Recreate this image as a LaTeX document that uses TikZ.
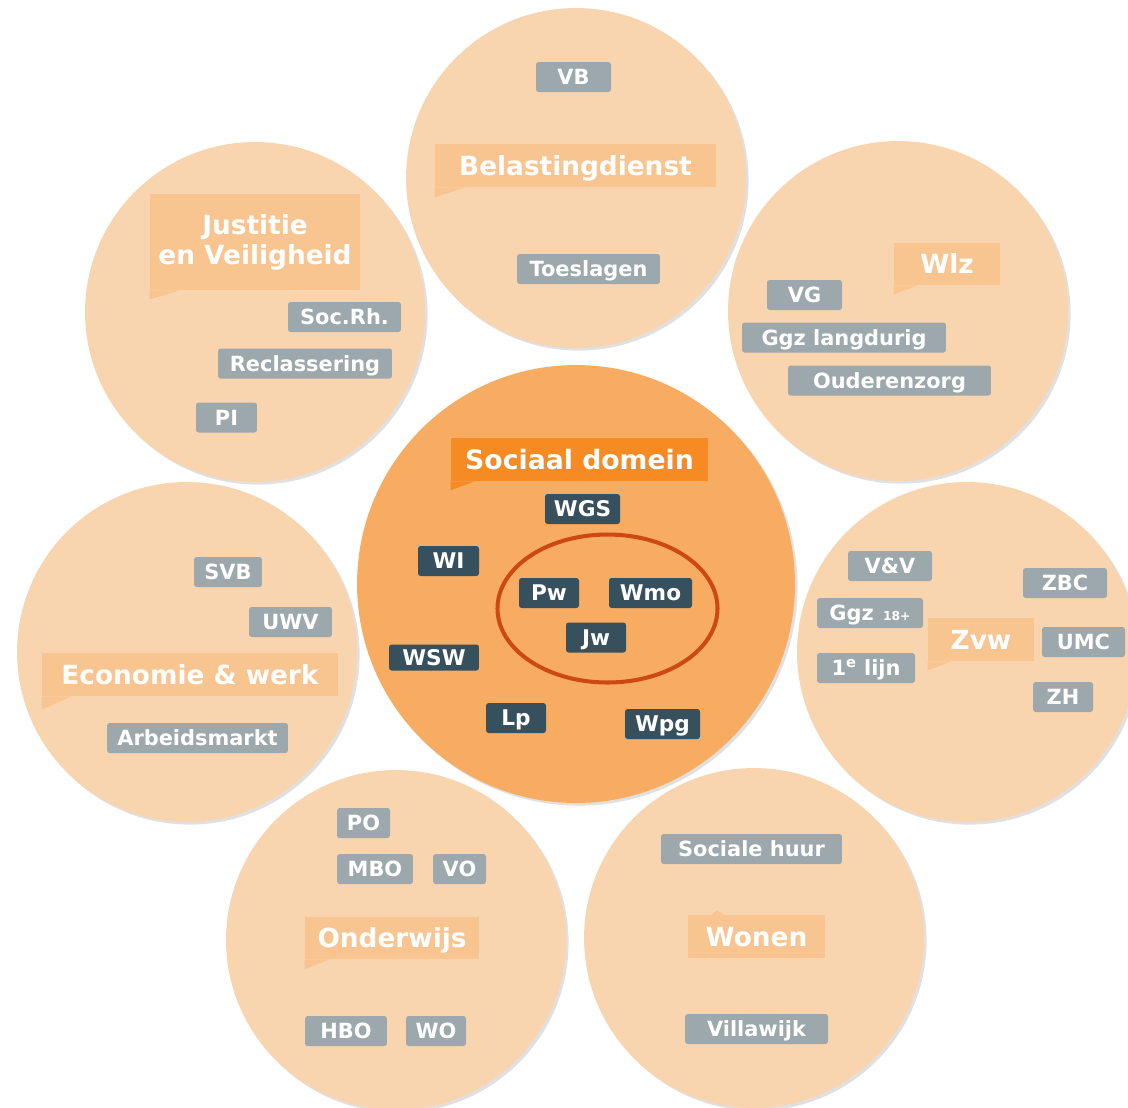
\documentclass[tikz,border=0pt]{standalone}
\usepackage{fontspec}
\setmainfont{DejaVu Sans}
\usepackage{tikz}
\usetikzlibrary{shadows}
\definecolor{cirkellicht}{HTML}{F9D5AF}
\definecolor{cirkelmidden}{HTML}{F7AC62}
\definecolor{koplicht}{HTML}{F8C48F}
\definecolor{kopmidden}{HTML}{F58B22}
\definecolor{taggrijs}{HTML}{9DA8AD}
\definecolor{tagdonker}{HTML}{37505D}
\definecolor{ringrood}{HTML}{CC4A12}

\begin{document}
\begin{tikzpicture}[x=0.02cm,y=-0.02cm,line join=round,
  cirkel/.style={circle,inner sep=0pt,minimum size=6.8cm,fill=cirkellicht,
    drop shadow={shadow xshift=1.5pt,shadow yshift=-1.5pt,opacity=0.12,fill=black}},
  kop/.style={fill=koplicht,text=white,inner sep=0pt,align=center,
    text height=10.9pt,text depth=0pt,font=\bfseries\fontsize{15}{17}\selectfont},
  tag/.style={fill=taggrijs,text=white,rounded corners=1.5pt,inner sep=0pt,
    minimum height=0.6cm,text height=8.6pt,text depth=0pt,
    font=\bfseries\fontsize{11.9}{13}\selectfont},
  dtag/.style={tag,fill=tagdonker,text height=9pt,font=\bfseries\fontsize{12.3}{14}\selectfont}]
\clip (0,0) rectangle (1128,1107);
\useasboundingbox (0,0) rectangle (1128,1107);

% cirkels
\node[cirkel] (c-bel) at (576,178) {};
\node[cirkel] (c-jus) at (255,312) {};
\node[cirkel] (c-wlz) at (898,311) {};
\node[cirkel] (c-eco) at (187,652) {};
\node[cirkel] (c-zvw) at (967,652) {};
\node[cirkel] (c-ond) at (396,940) {};
\node[cirkel] (c-won) at (754,938) {};
\node[cirkel,minimum size=8.76cm,fill=cirkelmidden] (c-soc) at (576,584) {};

% Belastingdienst
\node[kop,minimum width=5.62cm,minimum height=0.86cm] (bel) at (575.5,165.5) {Belastingdienst};
\fill[koplicht] (bel.south west) -- ++(0,10) -- ++(30,-10) -- cycle;
\node[tag,minimum width=1.5cm] (vb) at (573.5,77) {VB};
\node[tag,minimum width=2.86cm] (toeslagen) at (588.5,269) {Toeslagen};

% Justitie en Veiligheid
\node[kop,minimum width=4.2cm,minimum height=1.92cm,text height=,text depth=] (jus) at (255,242) {Justitie\\en Veiligheid};
\fill[koplicht] (jus.south west) -- ++(0,9) -- ++(30,-9) -- cycle;
\node[tag,minimum width=2.26cm] (socrh) at (344.5,317) {Soc.Rh.};
\node[tag,minimum width=3.48cm] (reclassering) at (305,363.5) {Reclassering};
\node[tag,minimum width=1.22cm] (pi) at (226.5,417.5) {PI};

% Wlz
\node[kop,minimum width=2.12cm,minimum height=0.84cm] (wlz) at (947,264) {Wlz};
\fill[koplicht] (wlz.south west) -- ++(0,9) -- ++(24,-9) -- cycle;
\node[tag,minimum width=1.5cm] (vg) at (804.5,295) {VG};
\node[tag,minimum width=4.08cm] (ggzlang) at (844,337.5) {Ggz langdurig};
\node[tag,minimum width=4.06cm] (ouderenzorg) at (889.5,380.5) {Ouderenzorg};

% Economie & werk
\node[kop,minimum width=5.92cm,minimum height=0.86cm] (eco) at (190,674.5) {Economie \& werk};
\fill[koplicht] (eco.south west) -- ++(0,13) -- ++(30,-13) -- cycle;
\node[tag,minimum width=1.36cm] (svb) at (228,572) {SVB};
\node[tag,minimum width=1.66cm] (uwv) at (290.5,622) {UWV};
\node[tag,minimum width=3.62cm] (arbeidsmarkt) at (197.5,738) {Arbeidsmarkt};

% Zvw
\node[kop,minimum width=2.12cm,minimum height=0.86cm] (zvw) at (981,639.5) {Zvw};
\fill[koplicht] (zvw.south west) -- ++(0,9) -- ++(24,-9) -- cycle;
\node[tag,minimum width=1.68cm] (vv) at (890,566) {V\&V};
\node[tag,minimum width=1.68cm] (zbc) at (1065,583) {ZBC};
\node[tag,minimum width=2.12cm] (ggz) at (870,613) {Ggz {\fontsize{7}{8}\selectfont\,18+}};
\node[tag,minimum width=1.66cm] (umc) at (1083.5,642) {UMC};
\node[tag,minimum width=1.96cm] (eerstelijn) at (866,668) {1\textsuperscript{e} lijn};
\node[tag,minimum width=1.2cm] (zh) at (1063,697) {ZH};

% Onderwijs
\node[kop,minimum width=3.48cm,minimum height=0.84cm] (ond) at (392,938) {Onderwijs};
\fill[koplicht] (ond.south west) -- ++(0,10) -- ++(25,-10) -- cycle;
\node[tag,minimum width=1.06cm] (po) at (363.5,823) {PO};
\node[tag,minimum width=1.52cm] (mbo) at (375,869) {MBO};
\node[tag,minimum width=1.06cm] (vo) at (459.5,869) {VO};
\node[tag,minimum width=1.64cm] (hbo) at (346,1031) {HBO};
\node[tag,minimum width=1.2cm] (wo) at (436,1031) {WO};

% Wonen
\node[kop,minimum width=2.74cm,minimum height=0.86cm] (won) at (756.5,936.5) {Wonen};
\fill[koplicht] (won.north west) ++(24,0) -- ++(5,-4) -- ++(8,4) -- cycle;
\node[tag,minimum width=3.62cm] (socialehuur) at (751.5,849) {Sociale huur};
\node[tag,minimum width=2.86cm] (villawijk) at (756.5,1029) {Villawijk};

% Sociaal domein
\node[kop,fill=kopmidden,minimum width=5.14cm,minimum height=0.86cm,text height=11.2pt,
  font=\bfseries\fontsize{15.2}{18}\selectfont] (soc) at (579.5,459.5) {Sociaal domein};
\fill[kopmidden] (soc.south west) -- ++(0,9) -- ++(24,-9) -- cycle;
\draw[ringrood,line width=2.3pt] (607.5,608.5) ellipse (110 and 74);
\node[dtag,minimum width=1.5cm] (wgs) at (582.5,509) {WGS};
\node[dtag,minimum width=1.22cm] (wi) at (448.5,561) {WI};
\node[dtag,minimum width=1.2cm] (pw) at (549,593) {Pw};
\node[dtag,minimum width=1.66cm] (wmo) at (650.5,593) {Wmo};
\node[dtag,minimum width=1.2cm] (jw) at (596,637.5) {Jw};
\node[dtag,minimum width=1.8cm,minimum height=0.52cm] (wsw) at (434,657.5) {WSW};
\node[dtag,minimum width=1.2cm] (lp) at (516,718) {Lp};
\node[dtag,minimum width=1.5cm] (wpg) at (662.5,724) {Wpg};
\end{tikzpicture}
\end{document}
